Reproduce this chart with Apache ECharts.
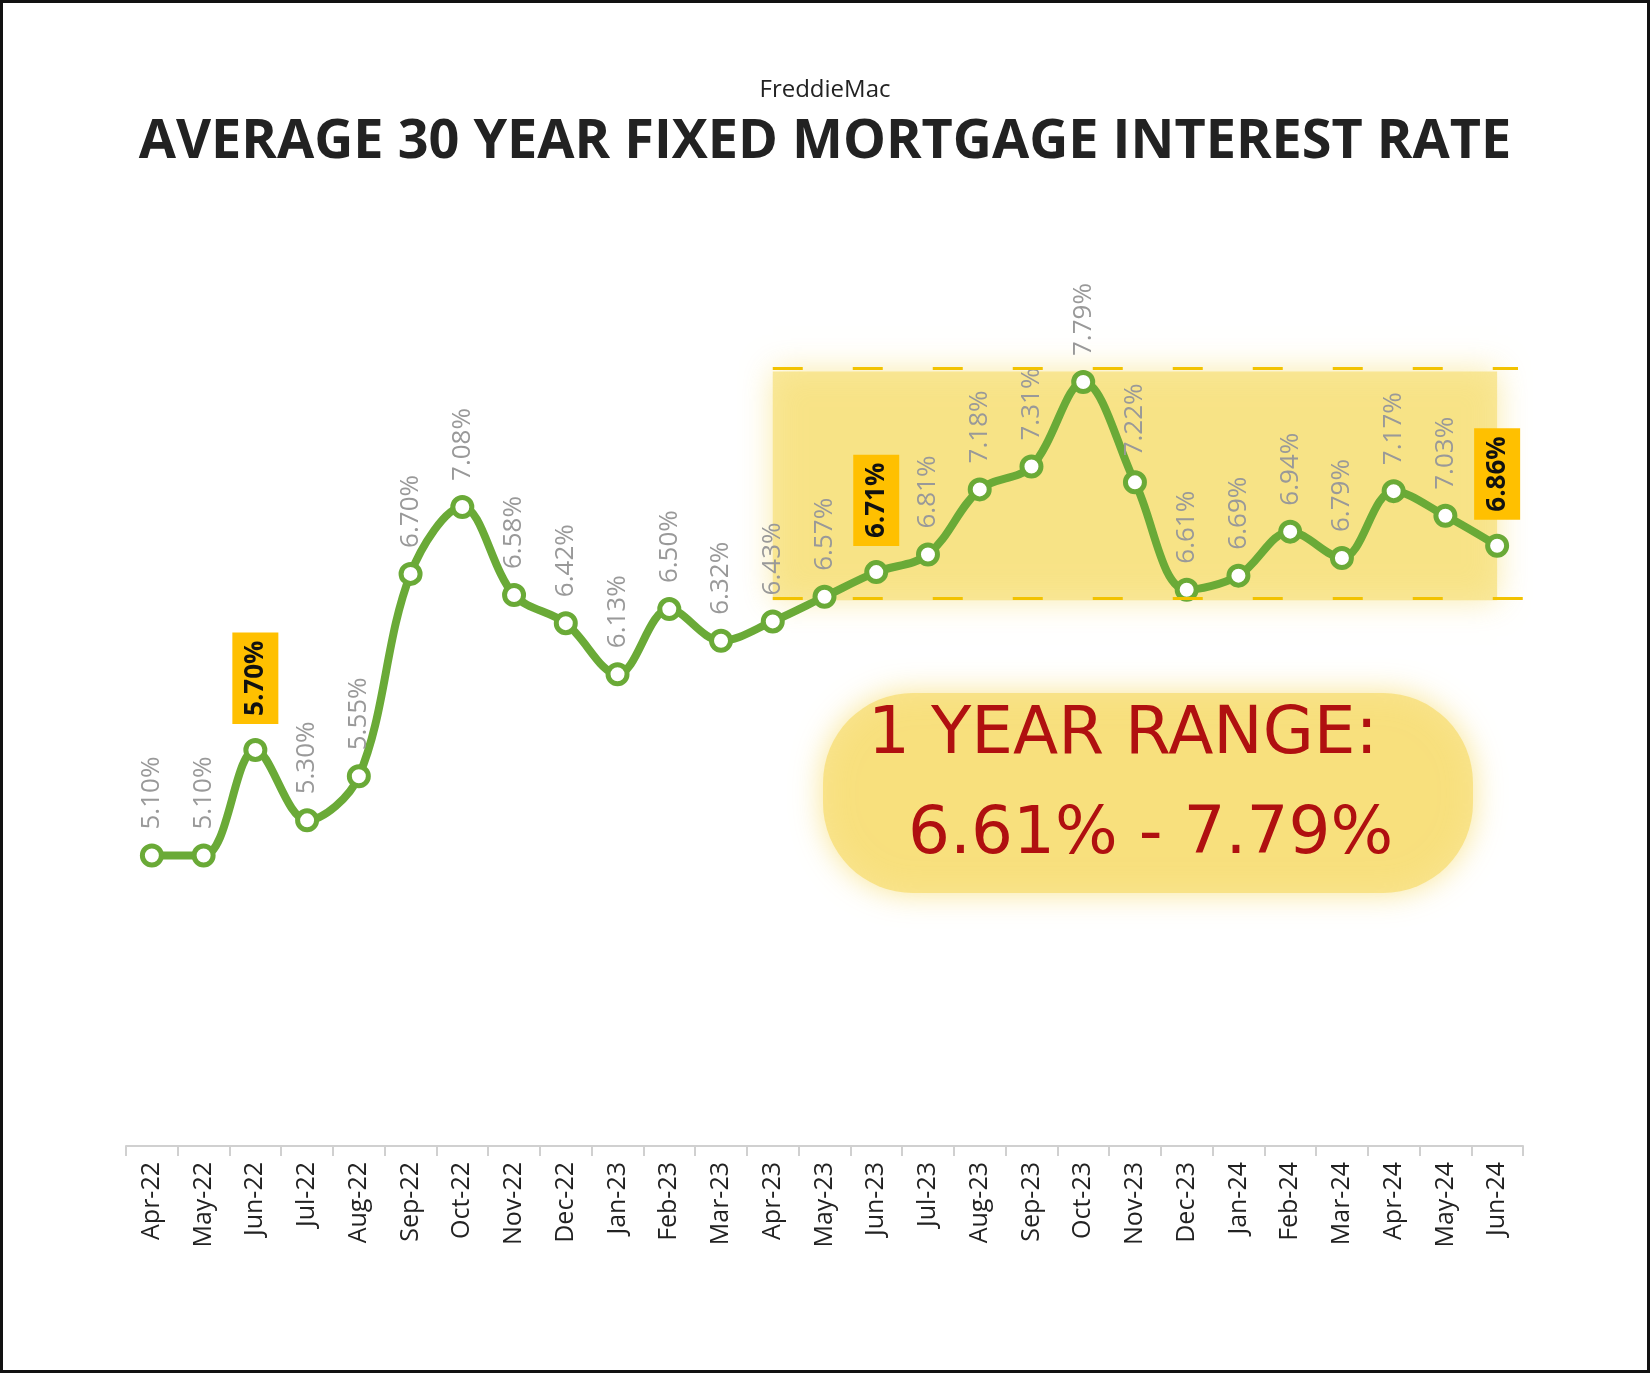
<!DOCTYPE html>
<html><head><meta charset="utf-8">
<script src="https://cdn.jsdelivr.net/npm/echarts@6/dist/echarts.min.js"></script>
<style>html,body{margin:0;padding:0;background:#fff}#c{width:1650px;height:1373px;box-sizing:border-box;border:3px solid #111}</style>
</head><body><div id="c"></div>
<script>
const categories=['Apr-22','May-22','Jun-22','Jul-22','Aug-22','Sep-22','Oct-22','Nov-22','Dec-22','Jan-23','Feb-23','Mar-23','Apr-23','May-23','Jun-23','Jul-23','Aug-23','Sep-23','Oct-23','Nov-23','Dec-23','Jan-24','Feb-24','Mar-24','Apr-24','May-24','Jun-24'];
const rates=[5.10,5.10,5.70,5.30,5.55,6.70,7.08,6.58,6.42,6.13,6.50,6.32,6.43,6.57,6.71,6.81,7.18,7.31,7.79,7.22,6.61,6.69,6.94,6.79,7.17,7.03,6.86];
const highlighted=['Jun-22','Jun-23','Jun-24'];
const chart=echarts.init(document.getElementById('c'));
const data=rates.map((v,i)=>{
  const hl=highlighted.includes(categories[i]);
  return {value:v,label:hl?{color:'#111',fontWeight:'bold',backgroundColor:'#FFC000',padding:[10,8,10,8]}:{}};
});
chart.setOption({
  animation:false,
  title:[{text:'FreddieMac',left:'center',top:70,textStyle:{fontFamily:'Open Sans',fontSize:24,fontWeight:'normal',color:'#222'}},
         {text:'AVERAGE 30 YEAR FIXED MORTGAGE INTEREST RATE',left:'center',top:108,textStyle:{fontFamily:'Open Sans',fontSize:54,fontWeight:'bold',color:'#222'}}],
  grid:{left:123,right:124,top:210,bottom:224},
  xAxis:{type:'category',data:categories,boundaryGap:true,
    axisLine:{lineStyle:{color:'#d0d0d0',width:2}},axisTick:{show:true,lineStyle:{color:'#d0d0d0',width:2},length:10},
    axisLabel:{rotate:90,fontFamily:'Open Sans',fontSize:25,color:'#222',margin:16}},
  yAxis:{type:'value',min:3.45,max:8.75,show:false,splitLine:{show:false}},
  series:[{type:'line',data:data,smooth:0.35,symbol:'circle',symbolSize:19,
    lineStyle:{color:'#6AAA37',width:8},itemStyle:{color:'#fff',borderColor:'#6AAA37',borderWidth:5},
    label:{show:true,position:'top',rotate:90,distance:14,align:'left',verticalAlign:'middle',formatter:p=>p.value.toFixed(2)+'%',fontFamily:'Open Sans',fontSize:26,color:'#999'},
    markArea:{silent:true,itemStyle:{color:'rgba(247,223,120,0.7)',shadowBlur:30,shadowColor:'rgba(247,223,120,0.9)'},
      data:[[{xAxis:'Apr-23',yAxis:6.55},{xAxis:'Jun-24',yAxis:7.85}]]},
    markLine:{silent:true,symbol:'none',label:{show:false},lineStyle:{color:'#F2C200',type:[30,50],width:3},
      data:[[{xAxis:'Apr-23',yAxis:7.87},{x:1515,yAxis:7.87}],[{xAxis:'Apr-23',yAxis:6.56},{x:1540,yAxis:6.56}]]},
    z:3}],
  graphic:[
    {type:'rect',shape:{x:820,y:690,width:650,height:200,r:90},style:{fill:'rgba(247,223,120,0.8)',shadowBlur:30,shadowColor:'rgba(247,223,120,1)'},z:1},
    {type:'text',left:865,top:700,style:{text:'1 YEAR RANGE:',font:'66px "DejaVu Sans"',fill:'#B01010'},z:2},
    {type:'text',left:905,top:800,style:{text:'6.61% - 7.79%',font:'66px "DejaVu Sans"',fill:'#B01010'},z:2}
  ]
});
</script></body></html>
